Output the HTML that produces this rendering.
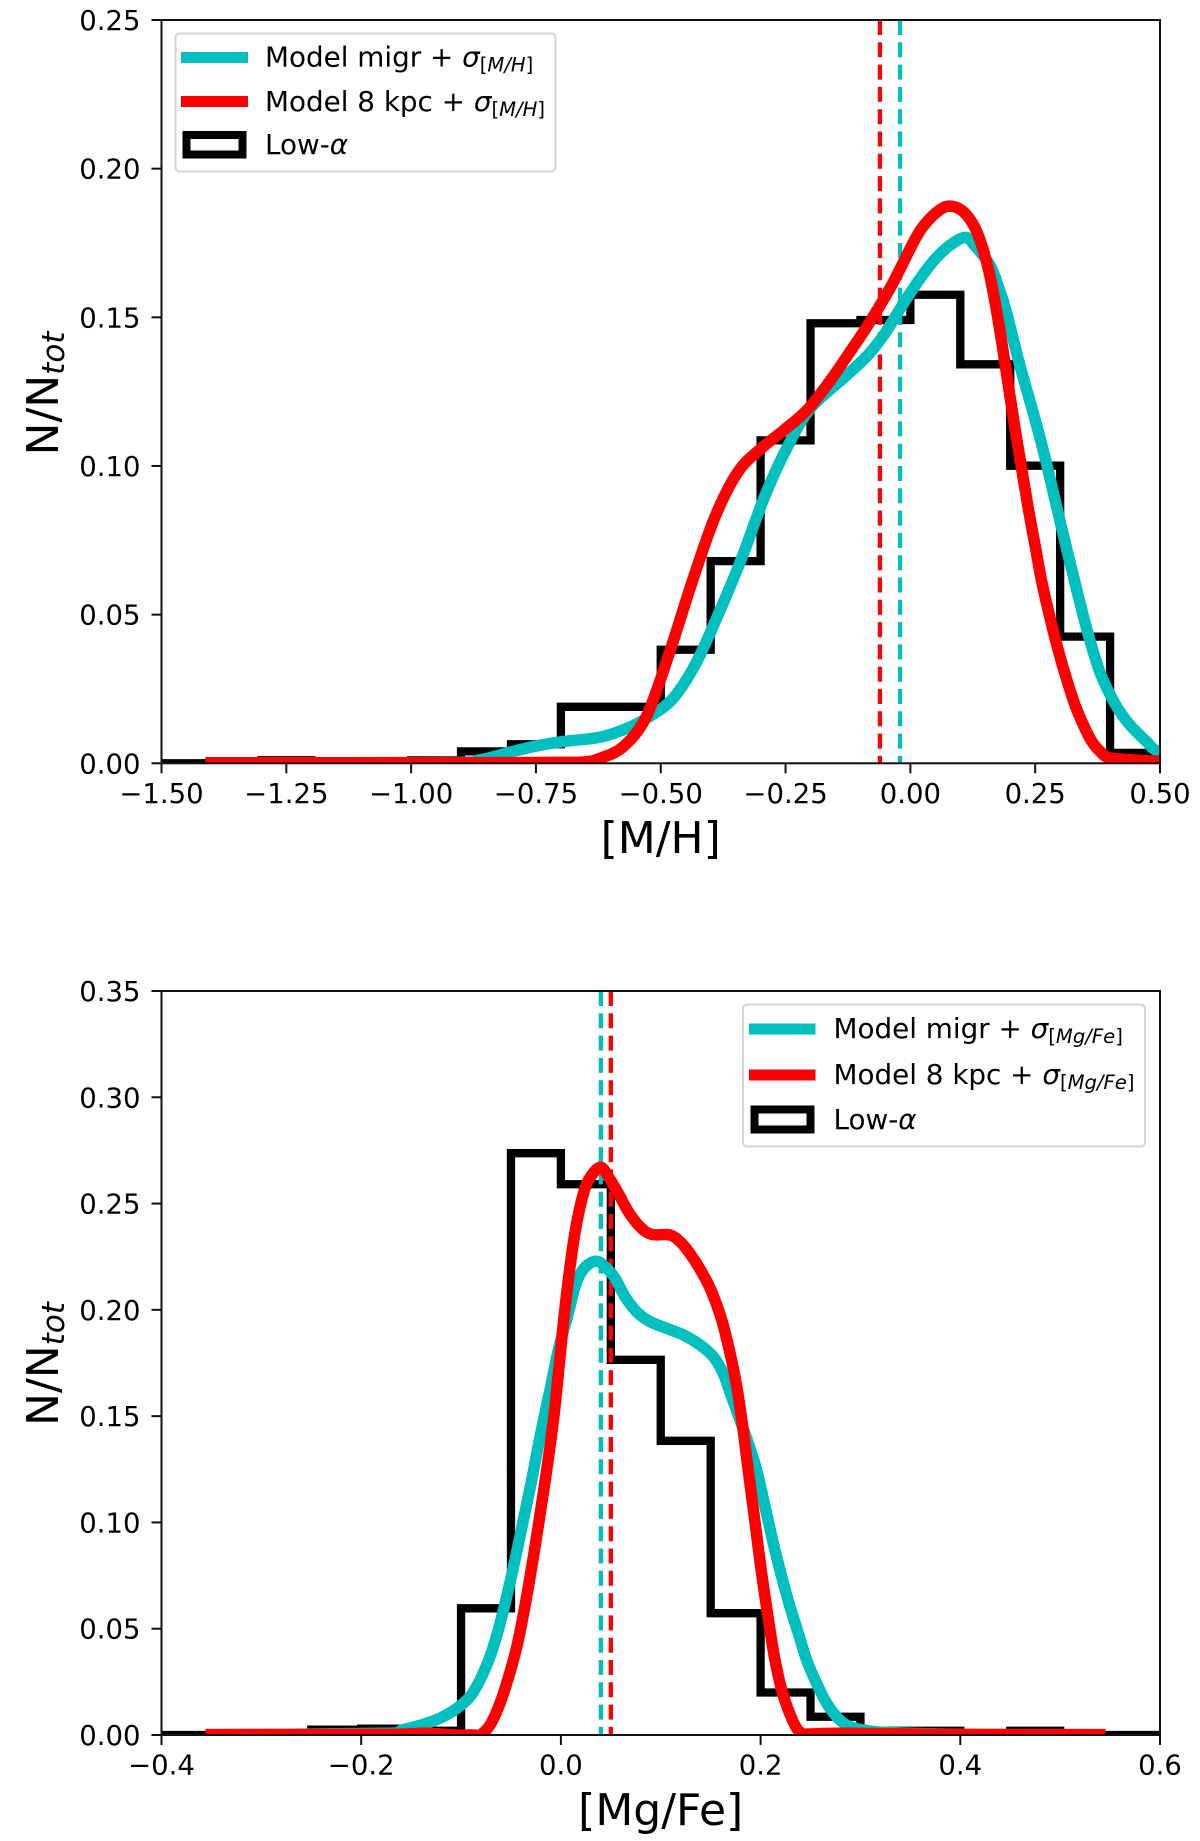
<!DOCTYPE html>
<html lang="en">
<head>
<meta charset="utf-8">
<title>Metallicity distributions</title>
<style>
html,body{margin:0;padding:0;background:#fff}
svg{display:block}
text{font-family:"DejaVu Sans","Liberation Sans",sans-serif;fill:#000}
.tick{font-size:27.5px}
.legend-text{font-size:27.8px}
.axis-title{font-size:44px}
.it{font-style:italic}
</style>
</head>
<body>
<svg id="figure" xmlns="http://www.w3.org/2000/svg" width="1200" height="1841" viewBox="0 0 1200 1841">
  <rect x="0" y="0" width="1200" height="1841" fill="#fff"/>
  <defs>
    <clipPath id="clip-top"><rect x="161.5" y="20" width="998.5" height="743.3"/></clipPath>
    <clipPath id="clip-bottom"><rect x="161.5" y="991" width="998.5" height="744"/></clipPath>
  </defs>
  <g id="panel-top"></g>
  <g id="panel-bottom"></g>

  <text class="axis-title" x="660.7" y="853" text-anchor="middle">[M/H]</text>
  <text class="axis-title" transform="translate(58,393.5) rotate(-90)" text-anchor="middle">N/N<tspan class="it" font-size="31" dy="6">tot</tspan></text>
  <text class="axis-title" x="660.7" y="1825" text-anchor="middle">[Mg/Fe]</text>
  <text class="axis-title" transform="translate(58,1364) rotate(-90)" text-anchor="middle">N/N<tspan class="it" font-size="31" dy="6">tot</tspan></text>

  <g>
    <rect x="175.5" y="33.5" width="380" height="138" rx="4" fill="#fff" fill-opacity="0.85" stroke="#d4d4d4" stroke-width="2"/>
    <line x1="181" x2="248" y1="57.5" y2="57.5" stroke="#00bfbf" stroke-width="11"/>
    <text class="legend-text" x="265" y="66.5">Model migr + <tspan class="it">σ</tspan><tspan font-size="19.6" dy="5">[<tspan class="it">M/H</tspan>]</tspan></text>
    <line x1="181" x2="248" y1="101.5" y2="101.5" stroke="#ff0000" stroke-width="11"/>
    <text class="legend-text" x="265" y="111">Model 8 kpc + <tspan class="it">σ</tspan><tspan font-size="19.6" dy="5">[<tspan class="it">M/H</tspan>]</tspan></text>
    <rect x="186.5" y="135" width="56" height="19.5" fill="#fff" stroke="#000" stroke-width="8"/>
    <text class="legend-text" x="265" y="154">Low-<tspan class="it">α</tspan></text>
  </g>

  <g>
    <rect x="743" y="1004.5" width="402" height="142" rx="4" fill="#fff" fill-opacity="0.85" stroke="#d4d4d4" stroke-width="2"/>
    <line x1="749" x2="815.5" y1="1029" y2="1029" stroke="#00bfbf" stroke-width="11"/>
    <text class="legend-text" x="833.5" y="1038">Model migr + <tspan class="it">σ</tspan><tspan font-size="19.6" dy="5">[<tspan class="it">Mg/Fe</tspan>]</tspan></text>
    <line x1="749" x2="815.5" y1="1075" y2="1075" stroke="#ff0000" stroke-width="11"/>
    <text class="legend-text" x="833.5" y="1084">Model 8 kpc + <tspan class="it">σ</tspan><tspan font-size="19.6" dy="5">[<tspan class="it">Mg/Fe</tspan>]</tspan></text>
    <rect x="754.5" y="1109.5" width="56" height="20" fill="#fff" stroke="#000" stroke-width="8"/>
    <text class="legend-text" x="833.5" y="1129">Low-<tspan class="it">α</tspan></text>
  </g>
</svg>
<script>
// ---- Top panel data: [M/H] ----
const mhXTickValues = [-1.5, -1.25, -1.0, -0.75, -0.5, -0.25, 0, 0.25, 0.5];
const mhXTickLabels = ["−1.50", "−1.25", "−1.00", "−0.75", "−0.50", "−0.25", "0.00", "0.25", "0.50"];
const mhYTickValues = [0, 0.05, 0.10, 0.15, 0.20, 0.25];
const mhYTickLabels = ["0.00", "0.05", "0.10", "0.15", "0.20", "0.25"];
const mhBinEdges = [-1.5, -1.4, -1.3, -1.2, -1.1, -1.0, -0.9, -0.8, -0.7, -0.6, -0.5, -0.4, -0.3, -0.2, -0.1, 0, 0.1, 0.2, 0.3, 0.4, 0.5];
const mhHistValues = [0, 0, 0.001, 0, 0, 0.001, 0.004, 0.0064, 0.019, 0.019, 0.0382, 0.068, 0.1086, 0.148, 0.1491, 0.1576, 0.1342, 0.1001, 0.0426, 0.0035];
const mhMigrX = [-1.412, -0.93, -0.864, -0.803, -0.75, -0.696, -0.621, -0.567, -0.521, -0.475, -0.43, -0.384, -0.338, -0.292, -0.246, -0.2, -0.131, -0.085, -0.051, -0.016, 0.015, 0.045, 0.076, 0.11, 0.1294, 0.1595, 0.1762, 0.1916, 0.2183, 0.249, 0.2717, 0.3025, 0.3345, 0.3552, 0.38, 0.41, 0.4367, 0.4735, 0.4935, 0.55];
const mhMigrY = [0.0001, 0.0003, 0.0011, 0.0037, 0.0058, 0.0073, 0.0088, 0.0118, 0.0159, 0.0219, 0.0335, 0.0504, 0.0689, 0.0897, 0.1065, 0.1194, 0.13, 0.1373, 0.1446, 0.1541, 0.162, 0.1687, 0.1738, 0.1769, 0.174, 0.1675, 0.1604, 0.1522, 0.1345, 0.1161, 0.1015, 0.0795, 0.0575, 0.044, 0.0305, 0.02, 0.0135, 0.0072, 0.0042, 0.0005];
const mh8kpcX = [-1.412, -0.9, -0.7, -0.65, -0.621, -0.575, -0.529, -0.483, -0.437, -0.391, -0.345, -0.299, -0.253, -0.207, -0.162, -0.123, -0.085, -0.039, 0.007, 0.03, 0.0593, 0.0793, 0.1027, 0.1228, 0.1395, 0.1562, 0.1695, 0.1829, 0.1962, 0.2096, 0.223, 0.2363, 0.2497, 0.263, 0.2797, 0.2964, 0.3131, 0.3298, 0.3465, 0.3632, 0.38, 0.3966, 0.4334, 0.4935, 0.55];
const mh8kpcY = [0.0002, 0.0002, 0.0003, 0.0005, 0.0017, 0.0056, 0.0157, 0.037, 0.0611, 0.083, 0.0981, 0.1059, 0.1121, 0.1188, 0.1284, 0.1379, 0.1474, 0.1603, 0.1755, 0.1815, 0.1862, 0.1874, 0.186, 0.1821, 0.176, 0.1662, 0.1552, 0.1418, 0.1271, 0.1125, 0.099, 0.0856, 0.0734, 0.0612, 0.0489, 0.0379, 0.0282, 0.0196, 0.0129, 0.0074, 0.004, 0.0019, 0.0013, 0.0007, 0.0003];
const mhMigrMean = -0.0207;
const mh8kpcMean = -0.061;

// ---- Bottom panel data: [Mg/Fe] ----
const mgXTickValues = [-0.4, -0.2, 0, 0.2, 0.4, 0.6];
const mgXTickLabels = ["−0.4", "−0.2", "0.0", "0.2", "0.4", "0.6"];
const mgYTickValues = [0, 0.05, 0.10, 0.15, 0.20, 0.25, 0.30, 0.35];
const mgYTickLabels = ["0.00", "0.05", "0.10", "0.15", "0.20", "0.25", "0.30", "0.35"];
const mgBinEdges = [-0.4, -0.35, -0.3, -0.25, -0.2, -0.15, -0.1, -0.05, 0, 0.05, 0.1, 0.15, 0.2, 0.25, 0.3, 0.35, 0.4, 0.45, 0.5, 0.55, 0.6];
const mgHistValues = [0, 0, 0, 0.0025, 0.003, 0.002, 0.0596, 0.2737, 0.2591, 0.1765, 0.1384, 0.0573, 0.02, 0.0086, 0.002, 0.002, 0, 0.002, 0, 0];
const mgMigrX = [-0.356, -0.178, -0.159, -0.14, -0.1211, -0.1044, -0.0911, -0.081, -0.071, -0.0627, -0.0543, -0.046, -0.0376, -0.0292, -0.0209, -0.0109, -0.0026, 0.0074, 0.0141, 0.0208, 0.0291, 0.0375, 0.0458, 0.0542, 0.0642, 0.0759, 0.0892, 0.1059, 0.1226, 0.1393, 0.1526, 0.1626, 0.171, 0.1794, 0.1877, 0.1961, 0.2044, 0.2127, 0.2211, 0.2294, 0.2378, 0.2461, 0.2561, 0.2662, 0.2762, 0.2862, 0.2995, 0.3296, 0.4226, 0.5453];
const mgMigrY = [0.0001, 0.0008, 0.0024, 0.0047, 0.0079, 0.0125, 0.018, 0.0259, 0.0368, 0.0494, 0.0651, 0.0823, 0.1011, 0.12, 0.1403, 0.1623, 0.1811, 0.1984, 0.2109, 0.218, 0.2219, 0.2227, 0.2196, 0.2149, 0.2062, 0.1991, 0.1945, 0.1913, 0.1882, 0.1835, 0.178, 0.1701, 0.1591, 0.1482, 0.1372, 0.1245, 0.1075, 0.0902, 0.0745, 0.0604, 0.0478, 0.0353, 0.0243, 0.0149, 0.0086, 0.0047, 0.0027, 0.0011, 0.0002, 0.0001];
const mg8kpcX = [-0.356, -0.178, -0.14, -0.121, -0.106, -0.088, -0.081, -0.071, -0.061, -0.051, -0.0426, -0.0343, -0.0259, -0.0192, -0.0126, -0.0059, 0.0024, 0.0074, 0.0124, 0.0174, 0.0241, 0.0308, 0.0398, 0.0475, 0.0575, 0.0675, 0.0792, 0.0909, 0.1093, 0.121, 0.1326, 0.1426, 0.151, 0.1611, 0.1694, 0.1761, 0.1821, 0.1867, 0.1911, 0.1954, 0.2001, 0.2044, 0.2094, 0.2144, 0.2211, 0.2277, 0.2361, 0.2428, 0.2495, 0.2846, 0.3843, 0.5453];
const mg8kpcY = [0.0002, 0.0003, 0.0008, 0.0005, 0, 0, 0, 0.0047, 0.0149, 0.0295, 0.0447, 0.0651, 0.0886, 0.109, 0.13, 0.1545, 0.1937, 0.214, 0.2313, 0.2446, 0.2572, 0.2634, 0.2671, 0.2627, 0.2548, 0.2462, 0.2391, 0.2355, 0.2352, 0.2313, 0.2242, 0.2164, 0.2085, 0.1952, 0.1796, 0.1639, 0.145, 0.1278, 0.1121, 0.0964, 0.0792, 0.0651, 0.0494, 0.0353, 0.0212, 0.0118, 0.0032, 0.0005, 0.0005, 0.0008, 0.0003, 0.0002];
const mgMigrMean = 0.04;
const mg8kpcMean = 0.05;

const SVGNS = "http://www.w3.org/2000/svg";
const CYAN = "#00bfbf";
const RED = "#ff0000";

function make(parent, tag, attrs) {
  const el = document.createElementNS(SVGNS, tag);
  for (const k in attrs) el.setAttribute(k, attrs[k]);
  parent.appendChild(el);
  return el;
}

function smoothPath(px, py) {
  let d = "M" + px[0].toFixed(2) + " " + py[0].toFixed(2);
  for (let i = 0; i < px.length - 1; i++) {
    const i0 = Math.max(0, i - 1), i3 = Math.min(px.length - 1, i + 2);
    const c1x = px[i] + (px[i + 1] - px[i0]) / 6, c1y = py[i] + (py[i + 1] - py[i0]) / 6;
    const c2x = px[i + 1] - (px[i3] - px[i]) / 6, c2y = py[i + 1] - (py[i3] - py[i]) / 6;
    d += "C" + c1x.toFixed(2) + " " + c1y.toFixed(2) + " " + c2x.toFixed(2) + " " + c2y.toFixed(2) + " " + px[i + 1].toFixed(2) + " " + py[i + 1].toFixed(2);
  }
  return d;
}

function drawPanel(cfg) {
  const g = document.getElementById(cfg.id);
  const sx = v => cfg.left + (v - cfg.xMin) / (cfg.xMax - cfg.xMin) * (cfg.right - cfg.left);
  const sy = v => cfg.bottom - (v - cfg.yMin) / (cfg.yMax - cfg.yMin) * (cfg.bottom - cfg.top);
  const clip = make(g, "g", { "clip-path": "url(#" + cfg.clip + ")" });
  
  

  let d = "M" + sx(cfg.edges[0]) + " " + sy(0);
  cfg.hist.forEach((v, i) => {
    d += "L" + sx(cfg.edges[i]) + " " + sy(v) + "L" + sx(cfg.edges[i + 1]) + " " + sy(v);
  });
  d += "L" + sx(cfg.edges[cfg.edges.length - 1]) + " " + sy(0);
  const hist = make(clip, "path", { d: d, fill: "none", stroke: "#000", "stroke-width": 8.3, "stroke-linejoin": "miter" });
  
  

  const meanMigr = make(clip, "line", { x1: sx(cfg.meanMigr), x2: sx(cfg.meanMigr), y1: cfg.top, y2: cfg.bottom, stroke: CYAN, "stroke-width": 4.3, "stroke-dasharray": "15 7.3" });
  
  
  const mean8 = make(clip, "line", { x1: sx(cfg.mean8), x2: sx(cfg.mean8), y1: cfg.top, y2: cfg.bottom, stroke: RED, "stroke-width": 4.3, "stroke-dasharray": "15 7.3" });
  
  

  const migr = make(clip, "path", { d: smoothPath(cfg.migrX.map(sx), cfg.migrY.map(sy)), fill: "none", stroke: CYAN, "stroke-width": 11.5, "stroke-linejoin": "round" });
  
  
  const red = make(clip, "path", { d: smoothPath(cfg.redX.map(sx), cfg.redY.map(sy)), fill: "none", stroke: RED, "stroke-width": 11.5, "stroke-linejoin": "round" });
  
  

  const frame = make(g, "rect", { x: cfg.left, y: cfg.top, width: cfg.right - cfg.left, height: cfg.bottom - cfg.top, fill: "none", stroke: "#111", "stroke-width": 2 });
  
  

  cfg.xTicks.forEach((v, i) => {
    const t = make(g, "line", { x1: sx(v), x2: sx(v), y1: cfg.bottom, y2: cfg.bottom + 10, stroke: "#111", "stroke-width": 2 });
    
    
    const l = make(g, "text", { x: sx(v), y: cfg.bottom + 39.5, "text-anchor": "middle", class: "tick" });
    
    
    l.textContent = cfg.xLabels[i];
  });
  cfg.yTicks.forEach((v, i) => {
    const t = make(g, "line", { x1: cfg.left - 10, x2: cfg.left, y1: sy(v), y2: sy(v), stroke: "#111", "stroke-width": 2 });
    
    
    const l = make(g, "text", { x: cfg.left - 21, y: sy(v) + 10, "text-anchor": "end", class: "tick" });
    
    
    l.textContent = cfg.yLabels[i];
  });
}

drawPanel({
  id: "panel-top", clip: "clip-top",
  left: 161.5, right: 1160, top: 20, bottom: 763.3,
  xMin: -1.5, xMax: 0.5, yMin: 0, yMax: 0.25,
  edges: mhBinEdges, hist: mhHistValues,
  migrX: mhMigrX, migrY: mhMigrY, redX: mh8kpcX, redY: mh8kpcY,
  meanMigr: mhMigrMean, mean8: mh8kpcMean,
  xTicks: mhXTickValues, xLabels: mhXTickLabels, yTicks: mhYTickValues, yLabels: mhYTickLabels
});
drawPanel({
  id: "panel-bottom", clip: "clip-bottom",
  left: 161.5, right: 1160, top: 991, bottom: 1735,
  xMin: -0.4, xMax: 0.6, yMin: 0, yMax: 0.35,
  edges: mgBinEdges, hist: mgHistValues,
  migrX: mgMigrX, migrY: mgMigrY, redX: mg8kpcX, redY: mg8kpcY,
  meanMigr: mgMigrMean, mean8: mg8kpcMean,
  xTicks: mgXTickValues, xLabels: mgXTickLabels, yTicks: mgYTickValues, yLabels: mgYTickLabels
});
</script>
</body>
</html>
